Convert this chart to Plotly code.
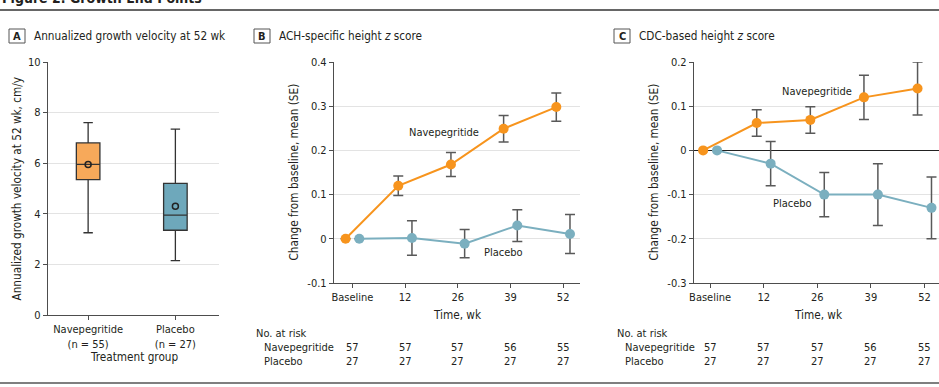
import plotly.graph_objects as go

W, H = 939, 387
FONT = "DejaVu Sans Condensed, Liberation Sans Narrow, sans-serif"

# ---------- Data ----------
groups = ["Navepegritide", "Placebo"]
group_n = ["(n = 55)", "(n = 27)"]
box_lower = [3.25, 2.15]
box_q1 = [5.35, 3.35]
box_median = [5.95, 3.95]
box_q3 = [6.8, 5.2]
box_upper = [7.6, 7.35]
box_mean = [5.95, 4.3]

time_labels = ["Baseline", "12", "26", "39", "52"]

ach_nave = [0, 0.12, 0.168, 0.249, 0.298]
ach_nave_se = [0, 0.022, 0.027, 0.030, 0.032]
ach_plac = [0, 0.002, -0.011, 0.030, 0.011]
ach_plac_se = [0, 0.039, 0.032, 0.036, 0.044]

cdc_nave = [0, 0.062, 0.069, 0.12, 0.14]
cdc_nave_se = [0, 0.03, 0.03, 0.05, 0.06]
cdc_plac = [0, -0.03, -0.10, -0.10, -0.13]
cdc_plac_se = [0, 0.05, 0.05, 0.07, 0.07]

risk_nave = [57, 57, 57, 56, 55]
risk_plac = [27, 27, 27, 27, 27]

ORANGE_BOX = "#F7A95A"
BLUE_BOX = "#6EA8BB"
ORANGE = "#F7941D"
BLUE = "#7BAFBF"
ERR = "#595959"
AXIS = "#4d4d4d"
GRID = "#e3e3e3"
TXT = "#231f20"

FS = 11      # tick / table text
FS_T = 11.7  # panel titles, axis titles

def px_x(p):
    return p / W

def px_y(p):
    return (H - p) / H

fig = go.Figure()

# ---------- Panel A ----------
box_colors = [ORANGE_BOX, BLUE_BOX]
for i in range(2):
    fig.add_trace(go.Box(
        x=[i], q1=[box_q1[i]], median=[box_median[i]], q3=[box_q3[i]],
        lowerfence=[box_lower[i]], upperfence=[box_upper[i]],
        width=0.27, whiskerwidth=0.4,
        fillcolor=box_colors[i], line=dict(color="#333333", width=1.3),
        xaxis="x", yaxis="y", showlegend=False, hoverinfo="skip",
    ))
fig.add_trace(go.Scatter(
    x=[0, 1], y=box_mean, mode="markers",
    marker=dict(symbol="circle-open", size=6, color="#222222", line=dict(width=1.5)),
    xaxis="x", yaxis="y", showlegend=False,
))

# ---------- Panel B / C ----------
off = 0.13
xs = list(range(5))

def add_series(xa, ya, vals, se, color, shift):
    fig.add_trace(go.Scatter(
        x=[v + shift for v in xs], y=vals, mode="lines+markers",
        line=dict(color=color, width=2),
        marker=dict(color=color, size=10),
        error_y=dict(type="data", array=se, visible=True, color=ERR, thickness=1.5, width=5),
        xaxis=xa, yaxis=ya, showlegend=False,
    ))

add_series("x2", "y2", ach_plac, ach_plac_se, BLUE, off)
add_series("x2", "y2", ach_nave, ach_nave_se, ORANGE, -off)
add_series("x3", "y3", cdc_plac, cdc_plac_se, BLUE, off)
add_series("x3", "y3", cdc_nave, cdc_nave_se, ORANGE, -off)

tickfont = dict(family=FONT, size=FS, color=TXT)
common_axis = dict(showline=True, linecolor=AXIS, linewidth=1.3, ticks="outside",
                   tickcolor=AXIS, ticklen=4, tickfont=tickfont)

yA_top, yA_bot = 62, 315
yBC_top, yBC_bot = 62, 283

fig.update_layout(
    autosize=True, margin=dict(l=0, r=0, t=0, b=0, autoexpand=False),
    paper_bgcolor="white", plot_bgcolor="white",
    font=dict(family=FONT, size=FS, color=TXT),
    xaxis=dict(domain=[px_x(48), px_x(219)], range=[-0.46, 1.5],
               tickvals=[0, 1], ticktext=[f"{g}<br>{n}" for g, n in zip(groups, group_n)],
               showgrid=False, zeroline=False, anchor="y", **common_axis),
    yaxis=dict(domain=[px_y(yA_bot), px_y(yA_top)], range=[0, 10], tickvals=[0, 2, 4, 6, 8, 10],
               showgrid=True, gridcolor=GRID, zeroline=False, anchor="x", **common_axis),
    xaxis2=dict(domain=[px_x(334), px_x(580)], range=[-0.35, 4.32], tickvals=xs, ticktext=time_labels,
                showgrid=False, zeroline=False, anchor="y2", **common_axis),
    yaxis2=dict(domain=[px_y(yBC_bot), px_y(yBC_top)], range=[-0.1, 0.4],
                tickvals=[-0.1, 0, 0.1, 0.2, 0.3, 0.4], ticktext=["-0.1", "0", "0.1", "0.2", "0.3", "0.4"],
                showgrid=True, gridcolor=GRID, zeroline=False, anchor="x2", **common_axis),
    xaxis3=dict(domain=[px_x(694), px_x(939)], range=[-0.3, 4.27], tickvals=xs, ticktext=time_labels,
                showgrid=False, zeroline=False, anchor="y3", **common_axis),
    yaxis3=dict(domain=[px_y(yBC_bot), px_y(yBC_top)], range=[-0.3, 0.2],
                tickvals=[-0.3, -0.2, -0.1, 0, 0.1, 0.2], ticktext=["-0.3", "-0.2", "-0.1", "0", "0.1", "0.2"],
                showgrid=True, gridcolor=GRID, zeroline=True, zerolinecolor="#222222", zerolinewidth=1.2,
                anchor="x3", **common_axis),
)

ann = []
shapes = []

def text(x, y, s, xanchor="left", size=FS, angle=0, xref="paper", yref="paper", yanchor="middle", **kw):
    ann.append(dict(x=x, y=y, text=s, xref=xref, yref=yref, showarrow=False, xanchor=xanchor,
                    yanchor=yanchor, textangle=angle, font=dict(family=FONT, size=size, color=TXT), **kw))

# figure title (cut off at top) and rules
ann.append(dict(x=0, y=px_y(8), text="<b>Figure 2. Growth End Points</b>", xref="paper", yref="paper",
                showarrow=False, xanchor="left", yanchor="bottom",
                font=dict(family=FONT, size=14, color=TXT)))
shapes.append(dict(type="line", xref="paper", yref="paper", x0=0, x1=1, y0=px_y(10), y1=px_y(10),
                   line=dict(color="#333333", width=1.5)))
shapes.append(dict(type="line", xref="paper", yref="paper", x0=0, x1=1, y0=px_y(383), y1=px_y(383),
                   line=dict(color="#555555", width=1.5)))

# panel labels
panels = [("A", 9, "Annualized growth velocity at 52 wk"),
          ("B", 254, "ACH-specific height <i>z</i> score"),
          ("C", 614, "CDC-based height <i>z</i> score")]
for letter, x0, title in panels:
    shapes.append(dict(type="rect", xref="paper", yref="paper", x0=px_x(x0), x1=px_x(x0 + 16),
                       y0=px_y(43), y1=px_y(29), line=dict(color="#555555", width=1)))
    text(px_x(x0 + 8), px_y(36), f"<b>{letter}</b>", xanchor="center", size=FS)
    text(px_x(x0 + 23), px_y(36), title, size=FS_T)

# axis titles
text(px_x(16), px_y((yA_top + yA_bot) / 2), "Annualized growth velocity at 52 wk, cm/y", xanchor="center", angle=-90, size=FS_T)
text(px_x(134), px_y(357), "Treatment group", xanchor="center", size=FS_T)
text(px_x(293), px_y((yBC_top + yBC_bot) / 2), "Change from baseline, mean (SE)", xanchor="center", angle=-90, size=FS_T)
text(px_x(653), px_y((yBC_top + yBC_bot) / 2), "Change from baseline, mean (SE)", xanchor="center", angle=-90, size=FS_T)
text(px_x(457), px_y(315), "Time, wk", xanchor="center", size=FS_T)
text(px_x(818), px_y(315), "Time, wk", xanchor="center", size=FS_T)

# series labels
text(1.73, 0.24, "Navepegritide", xanchor="center", xref="x2", yref="y2")
text(2.86, -0.032, "Placebo", xanchor="center", xref="x2", yref="y2")
text(2.0, 0.134, "Navepegritide", xanchor="center", xref="x3", yref="y3")
text(1.54, -0.121, "Placebo", xanchor="center", xref="x3", yref="y3")

# number at risk tables
for xr, lx in (("x2", 254), ("x3", 615)):
    text(px_x(lx), px_y(333), "No. at risk")
    text(px_x(lx + 8), px_y(347), groups[0])
    text(px_x(lx + 8), px_y(361), groups[1])
    for i in range(5):
        text(i, px_y(347), str(risk_nave[i]), xanchor="center", xref=xr)
        text(i, px_y(361), str(risk_plac[i]), xanchor="center", xref=xr)

fig.update_layout(annotations=ann, shapes=shapes)

post = (
    "document.documentElement.style.margin='0';"
    "document.documentElement.style.overflow='hidden';"
    "document.body.style.margin='0';"
    "document.body.style.overflow='hidden';"
    "var gd=document.getElementById('{plot_id}');"
    "gd.style.position='fixed';gd.style.left='0px';gd.style.top='0px';"
    "gd.style.width='100vw';gd.style.height='100vh';"
    "Plotly.Plots.resize(gd);"
)
fig.write_html("out.html", config={"displayModeBar": False, "responsive": True},
               default_width="100%", default_height="100%", post_script=post)
